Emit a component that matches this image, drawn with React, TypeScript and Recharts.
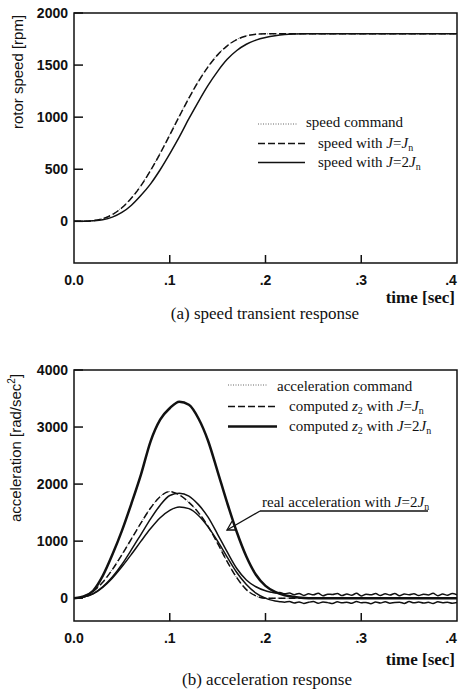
import React from 'react';
import { LineChart, Line, XAxis, YAxis, ReferenceArea } from 'recharts';

// ---- (a) speed transient response ----
const SPEED_TIME = [
  0, 0.01, 0.02, 0.03, 0.04, 0.05, 0.06, 0.07, 0.08, 0.09, 0.1, 0.11, 0.12, 0.13, 0.14, 0.15, 0.16, 0.17, 0.18, 0.19, 0.2,
  0.21, 0.22, 0.23, 0.24, 0.25, 0.26, 0.27, 0.28, 0.29, 0.3, 0.31, 0.32, 0.33, 0.34, 0.35, 0.36, 0.37, 0.38, 0.39, 0.4,
];
// command sits under the J=Jn trace in the picture
const speedCommand = [
  0, 0.5, 7, 27, 68, 134, 228, 349, 494, 658, 834, 1014, 1188, 1349, 1488, 1602, 1688, 1747, 1781, 1796, 1800,
  1800, 1800, 1800, 1800, 1800, 1800, 1800, 1800, 1800, 1800, 1800, 1800, 1800, 1800, 1800, 1800, 1800, 1800, 1800, 1800,
];
const speedJn = [
  0, 0.3, 6, 25, 65, 130, 223, 343, 488, 652, 828, 1008, 1182, 1343, 1483, 1598, 1685, 1745, 1780, 1796, 1800,
  1800, 1800, 1800, 1800, 1800, 1800, 1800, 1800, 1800, 1800, 1800, 1800, 1800, 1800, 1800, 1800, 1800, 1800, 1800, 1800,
];
const speedTwoJn = [
  0, 1, 5, 15, 40, 85, 155, 250, 360, 495, 648, 810, 985, 1150, 1305, 1440, 1555, 1640, 1700, 1740, 1765,
  1782, 1793, 1798, 1800, 1800, 1800, 1800, 1800, 1800, 1800, 1800, 1800, 1800, 1800, 1800, 1800, 1800, 1800, 1800, 1800,
];
const SPEED_TICKS = [0, 500, 1000, 1500, 2000];

// ---- (b) acceleration response ----
const ACC_TIME = SPEED_TIME;
const accCommand = [
  0, 32, 124, 286, 508, 768, 1048, 1326, 1584, 1782, 1870, 1808, 1678, 1498, 1258, 958, 638, 358, 148, 38, 0,
  0, 0, 0, 0, 0, 0, 0, 0, 0, 0, 0, 0, 0, 0, 0, 0, 0, 0, 0, 0,
];
const z2Jn = [
  0, 30, 120, 280, 500, 760, 1040, 1320, 1580, 1780, 1870, 1810, 1680, 1500, 1260, 960, 640, 360, 150, 40, 0,
  0, 0, 0, 0, 0, 0, 0, 0, 0, 0, 0, 0, 0, 0, 0, 0, 0, 0, 0, 0,
];
const z2TwoJn = [
  0, 30, 130, 390, 760, 1180, 1660, 2170, 2750, 3130, 3330, 3445, 3390, 3150, 2760, 2220, 1670, 1160, 730, 410, 215,
  110, 50, 20, 5, 0, 0, 0, 0, 0, 0, 0, 0, 0, 0, 0, 0, 0, 0, 0, 0,
];
// measured signals: coarse on the pulse, finer on the noisy tail
const REAL_TIME = [
  0, 0.01, 0.02, 0.03, 0.04, 0.05, 0.06, 0.07, 0.08, 0.09, 0.1, 0.11, 0.12, 0.13, 0.14, 0.15, 0.16, 0.17, 0.18, 0.19, 0.2,
  0.205, 0.21, 0.215, 0.22, 0.225, 0.23, 0.235, 0.24, 0.245, 0.25, 0.255, 0.26, 0.265, 0.27, 0.275, 0.28, 0.285, 0.29, 0.295, 0.3,
  0.305, 0.31, 0.315, 0.32, 0.325, 0.33, 0.335, 0.34, 0.345, 0.35, 0.355, 0.36, 0.365, 0.37, 0.375, 0.38, 0.385, 0.39, 0.395, 0.4,
];
const realAccTwoJn = [
  0, 20, 80, 200, 370, 590, 850, 1120, 1390, 1630, 1800, 1840, 1790, 1640, 1420, 1120, 810, 520, 320, 200, 130,
  110, 92, 100, 78, 90, 62, 84, 48, 76, 58, 88, 42, 70, 64, 82, 45, 74, 52, 86, 40,
  68, 60, 80, 47, 77, 55, 84, 43, 72, 61, 79, 46, 70, 57, 85, 44, 73, 50, 81, 60,
];
const realAccJn = [
  0, 20, 75, 190, 350, 550, 770, 1000, 1220, 1410, 1540, 1600, 1570, 1450, 1250, 1000, 720, 450, 240, 90, 0,
  -30, -50, -62, -70, -58, -84, -66, -92, -72, -60, -88, -68, -78, -95, -64, -82, -70, -90, -58, -80,
  -74, -96, -66, -84, -62, -88, -76, -70, -92, -60, -82, -68, -86, -72, -94, -64, -80, -70, -88, -76,
];
const ACC_TICKS = [0, 1000, 2000, 3000, 4000];
const TIME_TICKS = [0, 0.1, 0.2, 0.3, 0.4];

const speedData = SPEED_TIME.map((t, i) => ({ t, cmd: speedCommand[i], jn: speedJn[i], twoJn: speedTwoJn[i] }));
const cmdAccData = ACC_TIME.map((t, i) => ({ t, v: accCommand[i] }));
const z2JnData = ACC_TIME.map((t, i) => ({ t, v: z2Jn[i] }));
const z2TwoJnData = ACC_TIME.map((t, i) => ({ t, v: z2TwoJn[i] }));
const realTwoJnData = REAL_TIME.map((t, i) => ({ t, v: realAccTwoJn[i] }));
const realJnData = REAL_TIME.map((t, i) => ({ t, v: realAccJn[i] }));

const SANS = '"Liberation Sans", Arial, sans-serif';
const SERIF = '"Liberation Serif", "Times New Roman", serif';
const INK = '#111';

// ticks point inward, labels outside
const YTick = (props: any) => {
  const { x, y, payload } = props;
  return (
    <g>
      <line x1={x + 6} x2={x + 15} y1={y} y2={y} stroke={INK} strokeWidth={1.5} />
      <text x={x} y={y + 5} textAnchor="end" fontFamily={SANS} fontWeight={700} fontSize={14} fill={INK}>
        {payload.value}
      </text>
    </g>
  );
};

const XTick = (props: any) => {
  const { x, y, payload } = props;
  const v = payload.value;
  const label = v === 0 ? '0.0' : '.' + Math.round(v * 10);
  return (
    <g>
      {v > 0 && v < 0.4 && <line x1={x} x2={x} y1={y} y2={y - 8} stroke={INK} strokeWidth={1.5} />}
      <text x={x} y={y + 22} textAnchor="middle" fontFamily={SANS} fontWeight={700} fontSize={14} fill={INK}>
        {label}
      </text>
    </g>
  );
};

const J = ({ sub }: { sub?: string }) => (
  <>
    <tspan fontStyle="italic">J</tspan>
    {sub && <tspan fontSize={10} dy={3}>{sub}</tspan>}
    {sub && <tspan dy={-3}></tspan>}
  </>
);

const App: React.FC = () => {
  return (
    <div style={{ position: 'absolute', left: 0, top: 0, width: 461, height: 698, background: '#fff' }}>
      {/* (a) speed */}
      <div style={{ position: 'absolute', left: 0, top: 0 }}>
        <LineChart width={461} height={300} data={speedData} margin={{ top: 13, right: 4, left: 0, bottom: 0 }}>
          <XAxis dataKey="t" type="number" domain={[0, 0.4]} ticks={TIME_TICKS} tick={XTick} tickSize={0} tickMargin={0} axisLine={false} tickLine={false} height={37} allowDataOverflow />
          <YAxis type="number" domain={[-400, 2000]} ticks={SPEED_TICKS} tick={YTick} tickSize={0} tickMargin={6} width={74} axisLine={false} tickLine={false} allowDataOverflow />
          <ReferenceArea x1={0} x2={0.4} y1={-400} y2={2000} fill="none" stroke={INK} strokeWidth={1.5} />
          <Line dataKey="cmd" type="monotone" stroke="#666" strokeWidth={1} strokeDasharray="1 2" dot={false} isAnimationActive={false} />
          <Line dataKey="jn" type="monotone" stroke={INK} strokeWidth={1.5} strokeDasharray="7 3" dot={false} isAnimationActive={false} />
          <Line dataKey="twoJn" type="monotone" stroke={INK} strokeWidth={1.5} dot={false} isAnimationActive={false} />
        </LineChart>
      </div>

      {/* (b) acceleration */}
      <div style={{ position: 'absolute', left: 0, top: 357 }}>
        <LineChart width={461} height={301} margin={{ top: 13, right: 4, left: 0, bottom: 0 }}>
          <XAxis dataKey="t" type="number" domain={[0, 0.4]} ticks={TIME_TICKS} tick={XTick} tickSize={0} tickMargin={0} axisLine={false} tickLine={false} height={37} allowDataOverflow />
          <YAxis type="number" domain={[-400, 4000]} ticks={ACC_TICKS} tick={YTick} tickSize={0} tickMargin={6} width={74} axisLine={false} tickLine={false} allowDataOverflow />
          <ReferenceArea x1={0} x2={0.4} y1={-400} y2={4000} fill="none" stroke={INK} strokeWidth={1.5} />
          <Line data={cmdAccData} dataKey="v" type="monotone" stroke="#666" strokeWidth={1} strokeDasharray="1 2" dot={false} isAnimationActive={false} />
          <Line data={z2JnData} dataKey="v" type="monotone" stroke={INK} strokeWidth={1.5} strokeDasharray="7 3" dot={false} isAnimationActive={false} />
          <Line data={realJnData} dataKey="v" type="monotone" stroke={INK} strokeWidth={1.5} dot={false} isAnimationActive={false} />
          <Line data={realTwoJnData} dataKey="v" type="monotone" stroke={INK} strokeWidth={1.5} dot={false} isAnimationActive={false} />
          <Line data={z2TwoJnData} dataKey="v" type="monotone" stroke={INK} strokeWidth={2.5} dot={false} isAnimationActive={false} />
        </LineChart>
      </div>

      {/* titles, legends, captions, annotation */}
      <svg width={461} height={698} style={{ position: 'absolute', left: 0, top: 0, pointerEvents: 'none' }}>
        <g fill={INK}>
          <text transform="translate(23,72) rotate(-90)" textAnchor="middle" fontFamily={SANS} fontSize={15}>rotor speed [rpm]</text>
          <text x={455} y={303} textAnchor="end" fontFamily={SERIF} fontWeight={700} fontSize={17}>time [sec]</text>
          <text x={265} y={319} textAnchor="middle" fontFamily={SERIF} fontSize={17}>(a) speed transient response</text>

          <line x1={258} x2={298} y1={124} y2={124} stroke="#666" strokeWidth={1} strokeDasharray="1 1.5" />
          <text x={306} y={127} fontFamily={SERIF} fontSize={15}>speed command</text>
          <line x1={258} x2={305} y1={143.5} y2={143.5} stroke={INK} strokeWidth={1.5} strokeDasharray="7 3" />
          <text x={318} y={148} fontFamily={SERIF} fontSize={15}>speed with <J />=<J sub="n" /></text>
          <line x1={258} x2={305} y1={162.5} y2={162.5} stroke={INK} strokeWidth={1.5} />
          <text x={318} y={167} fontFamily={SERIF} fontSize={15}>speed with <J />=2<J sub="n" /></text>

          <text transform="translate(21,448) rotate(-90)" textAnchor="middle" fontFamily={SANS} fontSize={15}>
            acceleration [rad/sec<tspan fontSize={10} dy={-6}>2</tspan><tspan dy={6}>]</tspan>
          </text>
          <text x={455} y={665} textAnchor="end" fontFamily={SERIF} fontWeight={700} fontSize={17}>time [sec]</text>
          <text x={267} y={685} textAnchor="middle" fontFamily={SERIF} fontSize={17}>(b) acceleration response</text>

          <line x1={228} x2={267} y1={385} y2={385} stroke="#666" strokeWidth={1} strokeDasharray="1 1.5" />
          <text x={277} y={391} fontFamily={SERIF} fontSize={15}>acceleration command</text>
          <line x1={228} x2={277} y1={406.5} y2={406.5} stroke={INK} strokeWidth={1.5} strokeDasharray="7 3" />
          <text x={289} y={411} fontFamily={SERIF} fontSize={15}>
            computed <tspan fontStyle="italic">z</tspan><tspan fontSize={10} dy={3}>2</tspan><tspan dy={-3}> with </tspan><J />=<J sub="n" />
          </text>
          <line x1={228} x2={277} y1={426.5} y2={426.5} stroke={INK} strokeWidth={2.5} />
          <text x={289} y={431} fontFamily={SERIF} fontSize={15}>
            computed <tspan fontStyle="italic">z</tspan><tspan fontSize={10} dy={3}>2</tspan><tspan dy={-3}> with </tspan><J />=2<J sub="n" />
          </text>

          <text x={262} y={507} fontFamily={SERIF} fontSize={15}>real acceleration with <J />=2<J sub="n" /></text>
          <g stroke={INK} strokeWidth={1.3} fill="none">
            <line x1={260} x2={428} y1={511} y2={511} />
            <line x1={260} y1={511} x2={227} y2={530} />
            <polyline points="237,530 227,530 232,521.3" />
          </g>
        </g>
      </svg>
    </div>
  );
};

export default App;
